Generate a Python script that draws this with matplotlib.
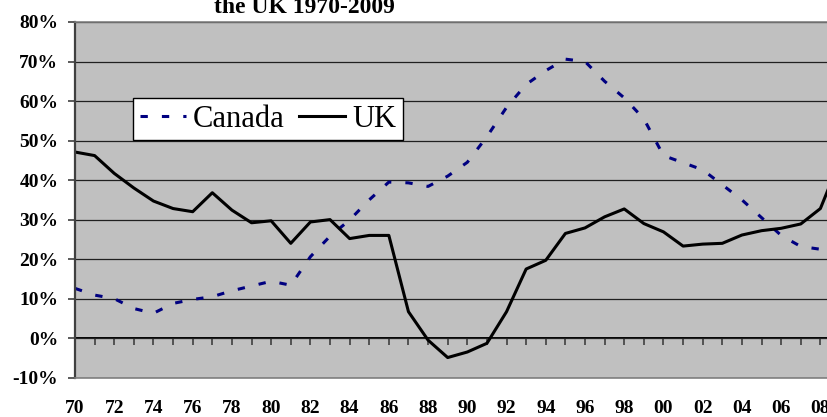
import numpy as np
import matplotlib.pyplot as plt

years = list(range(1970, 2010))
canada = [12.6, 10.9, 10.0, 7.5, 6.3, 8.8, 9.8, 10.5, 12.0, 13.2,
          14.4, 13.4, 20.6, 25.8, 29.9, 35.0, 39.5, 39.3, 38.4, 41.0,
          44.5, 51.0, 58.4, 64.2, 67.7, 70.6, 70.0, 65.0, 60.8, 55.5,
          46.2, 44.4, 42.6, 38.8, 35.0, 30.5, 26.0, 23.2, 22.5, 24.0]
uk = [47.1, 46.2, 41.7, 38.0, 34.7, 32.8, 32.0, 36.8, 32.4, 29.2,
      29.7, 24.0, 29.4, 30.0, 25.2, 26.0, 26.0, 6.7, -0.5, -4.9,
      -3.5, -1.3, 6.7, 17.5, 19.7, 26.5, 27.9, 30.7, 32.7, 29.0,
      26.9, 23.3, 23.8, 24.0, 26.1, 27.2, 27.8, 28.9, 32.8, 45.0]
yticks = list(range(-10, 90, 10))
xlabel_years = list(range(1970, 2010, 2))

plt.rcParams['font.family'] = ['Liberation Serif', 'DejaVu Serif']

fig = plt.figure(figsize=(8.28, 4.17), dpi=100)
ax = fig.add_axes([75/828, 1 - 377.7/417, 765/828, (377.7 - 22)/417])
ax.set_facecolor('#C0C0C0')

ax.plot(years, canada, color='#000080', lw=2.2, dashes=(2.4, 4.6), label='Canada')
ax.plot(years, uk, color='black', lw=2.2, label='UK')

ax.set_xlim(1970, 2009)
ax.set_ylim(-10, 80)
ax.set_yticks(yticks)
ax.set_yticklabels([f"{v}%" for v in yticks], fontsize=14, fontweight='bold')
ax.yaxis.grid(True, color='#202020', lw=0.9)
ax.set_axisbelow(True)
ax.tick_params(axis='y', direction='out', length=5, width=1.2, pad=7, color='#404040')

ax.set_xticks(xlabel_years)
ax.set_xticklabels([str(y)[2:] for y in xlabel_years], fontsize=14, fontweight='bold')
ax.tick_params(axis='x', length=0, pad=16)

for s in ['top', 'right', 'bottom']:
    ax.spines[s].set_color('#808080')
    ax.spines[s].set_linewidth(1.2)
ax.spines['left'].set_color('#404040')
ax.spines['left'].set_linewidth(1.6)

# category axis crossing at 0%
sec = ax.secondary_xaxis(1/9)
sec.set_xticks(years)
sec.set_xticklabels([])
sec.tick_params(direction='out', length=5, width=1.2, color='#404040')
sec.spines['bottom'].set_color('black')
sec.spines['bottom'].set_linewidth(1.4)

leg = ax.legend(loc='upper left', bbox_to_anchor=(58/765, 1 - 76/355.7), ncol=2,
                fontsize=22, frameon=True, fancybox=False, handlelength=1.5,
                handletextpad=0.25, columnspacing=0.45, borderpad=0.22,
                borderaxespad=0)
leg.get_frame().set_edgecolor('black')
leg.get_frame().set_linewidth(1.0)
leg.get_frame().set_alpha(1)

fig.text(304/828, 1 - 13/417, 'the UK 1970-2009', ha='center', va='baseline',
         fontsize=17, fontweight='bold')

plt.savefig('out.png', dpi=100)
